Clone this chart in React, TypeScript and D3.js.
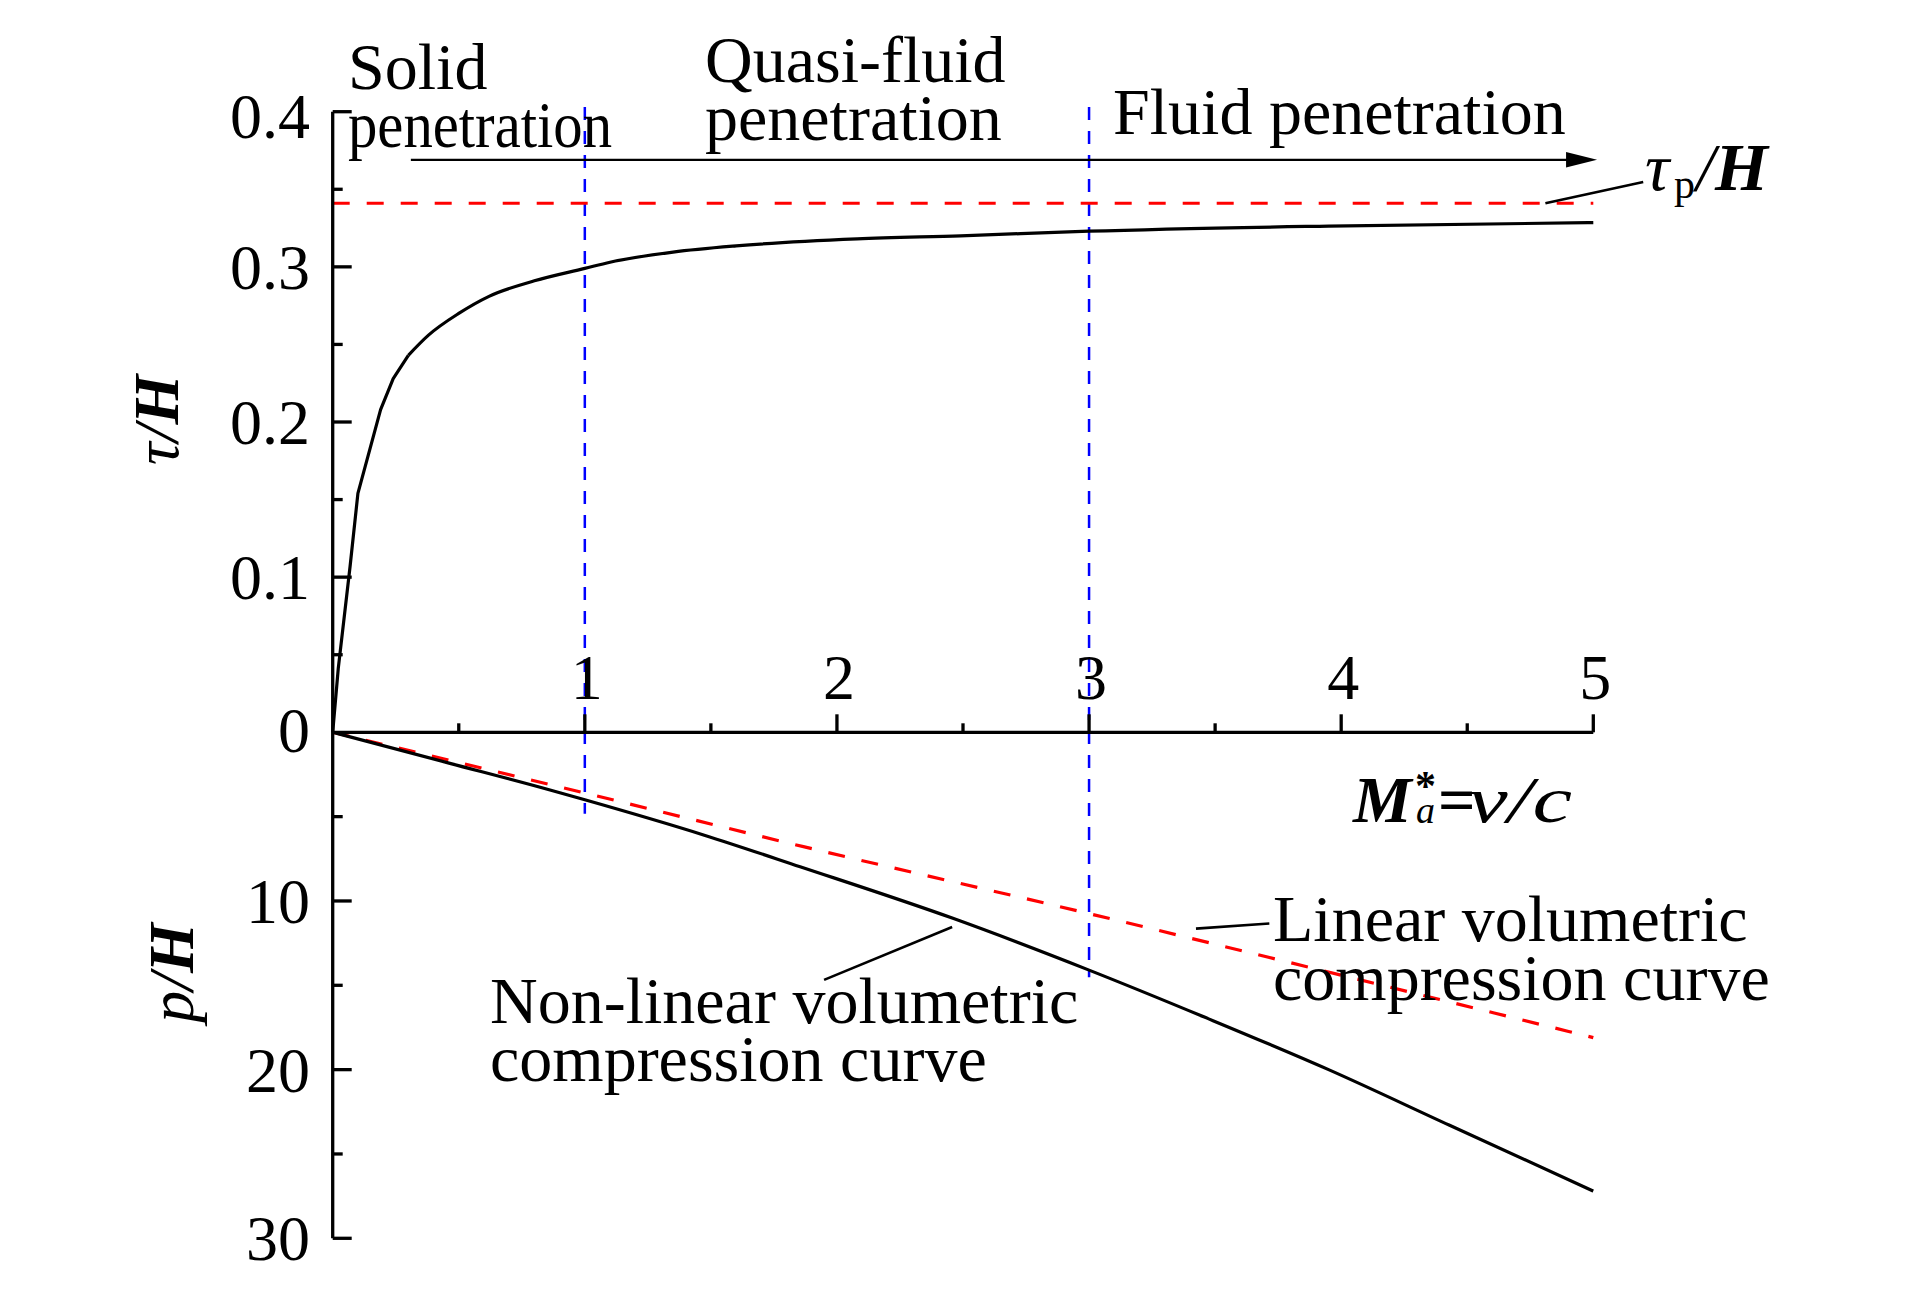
import React from "react";
import * as d3 from "d3";

// ---- data ----
const tauX = [0, 0.022, 0.069, 0.1, 0.19, 0.24, 0.3, 0.38, 0.5, 0.62, 0.8, 1.0, 1.1, 1.35, 1.6, 2.08, 2.49, 3.0, 3.95, 5.0];
const tauY = [0, 0.041, 0.107, 0.154, 0.208, 0.228, 0.243, 0.256, 0.270, 0.281, 0.291, 0.299, 0.303, 0.3095, 0.3135, 0.318, 0.320, 0.323, 0.3263, 0.3285];
const tauP = 0.341;

const nonLinX = [0, 0.465, 0.862, 1.0, 1.474, 1.854, 2.46, 3.0, 3.46, 3.95, 4.43, 5.0];
const nonLinP = [0, 1.84, 3.42, 4.0, 6.1, 7.97, 11.03, 14.1, 16.9, 20.0, 23.3, 27.2];

const linX = [0, 1, 1.867, 3, 4, 5];
const linP = [0, 3.6, 6.78, 10.75, 14.4, 18.1];

const regimeBounds = [1, 3];
const regimeBoundEnds = [4.83, 14.53];
const xMajor = [1, 2, 3, 4, 5];
const xMinor = [0.5, 1.5, 2.5, 3.5, 4.5];
const tauMajor = [0.1, 0.2, 0.3, 0.4];
const tauMinor = [0.05, 0.15, 0.25, 0.35];
const tauLabels = ["0.1", "0.2", "0.3", "0.4"];
const pMajor = [10, 20, 30];
const pMinor = [5, 15, 25];
const pLabels = ["10", "20", "30"];

const FONT = "'Liberation Serif', 'Times New Roman', serif";

export default function App() {
  const W = 1923, H = 1299;
  const x = d3.scaleLinear().domain([0, 5]).range([332.7, 1593.3]);
  const yT = d3.scaleLinear().domain([0, 0.4]).range([732.3, 111.7]);
  const yP = d3.scaleLinear().domain([0, 30]).range([732.3, 1238.3]);

  const tauPts: [number, number][] = tauX.map((v, i) => [v, tauY[i]]);
  const split = 6; // index of x = 0.3: straight segments before, smooth after
  const tauLinear = d3.line<[number, number]>().x((d) => x(d[0])).y((d) => yT(d[1])).curve(d3.curveLinear);
  const tauSmooth = d3.line<[number, number]>().x((d) => x(d[0])).y((d) => yT(d[1])).curve(d3.curveMonotoneX);
  const pLine = (xs: number[]) =>
    d3.line<number>().x((_, i) => x(xs[i])).y((d) => yP(d)).curve(d3.curveMonotoneX);

  const x0 = x(0);
  const y0 = yT(0);
  const majLen = 19, minLen = 10;

  const arrowY = yT(0.369);
  const arrowX1 = x(0.31), arrowX2 = x(5.015);

  return (
    <svg width={W} height={H} style={{ position: "absolute", left: 0, top: 0, background: "#fff" }} fontFamily={FONT}>
      {/* blue regime boundaries */}
      {regimeBounds.map((b, i) => (
        <line key={"b" + i} x1={x(b)} x2={x(b)} y1={yT(0.403)} y2={yP(regimeBoundEnds[i])}
          stroke="#0000ff" strokeWidth={2.5} strokeDasharray="13 11" />
      ))}

      {/* tau_p dashed */}
      <line x1={x(0)} x2={x(5)} y1={yT(tauP)} y2={yT(tauP)} stroke="#ff0000" strokeWidth={3.2} strokeDasharray="17 17" />

      {/* curves */}
      <path d={tauLinear(tauPts.slice(0, split + 1)) || ""} fill="none" stroke="#000" strokeWidth={3.2} strokeLinejoin="round" />
      <path d={tauSmooth(tauPts.slice(split)) || ""} fill="none" stroke="#000" strokeWidth={3.2} />
      <path d={pLine(linX)(linP) || ""} fill="none" stroke="#ff0000" strokeWidth={3.2} strokeDasharray="17 17" />
      <path d={pLine(nonLinX)(nonLinP) || ""} fill="none" stroke="#000" strokeWidth={3.2} />

      {/* axes */}
      <line x1={x0} x2={x0} y1={yT(0.4)} y2={yP(30)} stroke="#000" strokeWidth={3.3} />
      <line x1={x0} x2={x(5)} y1={y0} y2={y0} stroke="#000" strokeWidth={3.3} />

      {tauMajor.map((t, i) => (
        <g key={"tm" + i}>
          <line x1={x0} x2={x0 + majLen} y1={yT(t)} y2={yT(t)} stroke="#000" strokeWidth={3.3} />
          <text x={310} y={yT(t) + (i === 3 ? 26 : 22)} textAnchor="end" fontSize={64}>{tauLabels[i]}</text>
        </g>
      ))}
      {tauMinor.map((t, i) => (
        <line key={"tn" + i} x1={x0} x2={x0 + minLen} y1={yT(t)} y2={yT(t)} stroke="#000" strokeWidth={3.3} />
      ))}
      <text x={310} y={y0 + 20} textAnchor="end" fontSize={64}>0</text>
      {pMajor.map((t, i) => (
        <g key={"pm" + i}>
          <line x1={x0} x2={x0 + majLen} y1={yP(t)} y2={yP(t)} stroke="#000" strokeWidth={3.3} />
          <text x={310} y={yP(t) + 22} textAnchor="end" fontSize={64}>{pLabels[i]}</text>
        </g>
      ))}
      {pMinor.map((t, i) => (
        <line key={"pn" + i} x1={x0} x2={x0 + minLen} y1={yP(t)} y2={yP(t)} stroke="#000" strokeWidth={3.3} />
      ))}
      {xMajor.map((t, i) => (
        <g key={"xm" + i}>
          <line x1={x(t)} x2={x(t)} y1={y0} y2={y0 - 18} stroke="#000" strokeWidth={3.3} />
          <text x={x(t) + 2} y={699} textAnchor="middle" fontSize={64}>{String(t)}</text>
        </g>
      ))}
      {xMinor.map((t, i) => (
        <line key={"xn" + i} x1={x(t)} x2={x(t)} y1={y0} y2={y0 - 9} stroke="#000" strokeWidth={3.3} />
      ))}

      {/* axis titles */}
      <text transform="translate(178,420) rotate(-90)" textAnchor="middle" fontSize={64} fontStyle="italic">
        <tspan>τ/</tspan><tspan fontWeight="bold">H</tspan>
      </text>
      <text transform="translate(193,973) rotate(-90)" textAnchor="middle" fontSize={64} fontStyle="italic">
        <tspan>p/</tspan><tspan fontWeight="bold">H</tspan>
      </text>

      <text fontSize={66} fontStyle="italic">
        <tspan x={1353} y={822} fontWeight="bold">M</tspan>
        <tspan x={1415} y={800} fontSize={42} fontStyle="normal" fontWeight="bold">*</tspan>
        <tspan x={1416} y={823} fontSize={38}>a</tspan>
        <tspan x={1438} y={822} fontStyle="normal" fontWeight="bold">=</tspan>
        <tspan x={1468} y={822} textLength={104} lengthAdjust="spacingAndGlyphs">v/c</tspan>
      </text>

      {/* regime annotations */}
      <text x={348} y={89} fontSize={66}>Solid</text>
      <text x={348} y={147} fontSize={66} textLength={264} lengthAdjust="spacingAndGlyphs">penetration</text>
      <text x={705} y={82} fontSize={66}>Quasi-fluid</text>
      <text x={705} y={140} fontSize={66}>penetration</text>
      <text x={1113} y={134} fontSize={66}>Fluid penetration</text>

      {/* arrow */}
      <line x1={arrowX1} x2={arrowX2 - 28} y1={arrowY} y2={arrowY} stroke="#000" strokeWidth={2.2} />
      <path d={`M${arrowX2},${arrowY} L${arrowX2 - 31},${arrowY - 7.7} L${arrowX2 - 31},${arrowY + 7.7} Z`} fill="#000" />

      {/* tau_p label */}
      <line x1={x(4.81)} y1={yT(tauP)} x2={x(5.198)} y2={yT(0.3547)} stroke="#000" strokeWidth={2.6} />
      <text fontSize={68} fontStyle="italic">
        <tspan x={1645} y={190}>τ</tspan>
        <tspan x={1674} y={198} fontSize={42} fontStyle="normal">p</tspan>
        <tspan x={1696} y={190}>/</tspan>
        <tspan fontWeight="bold">H</tspan>
      </text>

      {/* curve labels */}
      <line x1={x(1.949)} y1={yP(14.68)} x2={x(2.457)} y2={yP(11.54)} stroke="#000" strokeWidth={2.6} />
      <text x={490} y={1023} fontSize={66}>Non-linear volumetric</text>
      <text x={490} y={1081} fontSize={66}>compression curve</text>

      <line x1={x(3.424)} y1={yP(11.64)} x2={x(3.715)} y2={yP(11.34)} stroke="#000" strokeWidth={2.6} />
      <text x={1273} y={941} fontSize={66}>Linear volumetric</text>
      <text x={1273} y={1000} fontSize={66}>compression curve</text>
    </svg>
  );
}
